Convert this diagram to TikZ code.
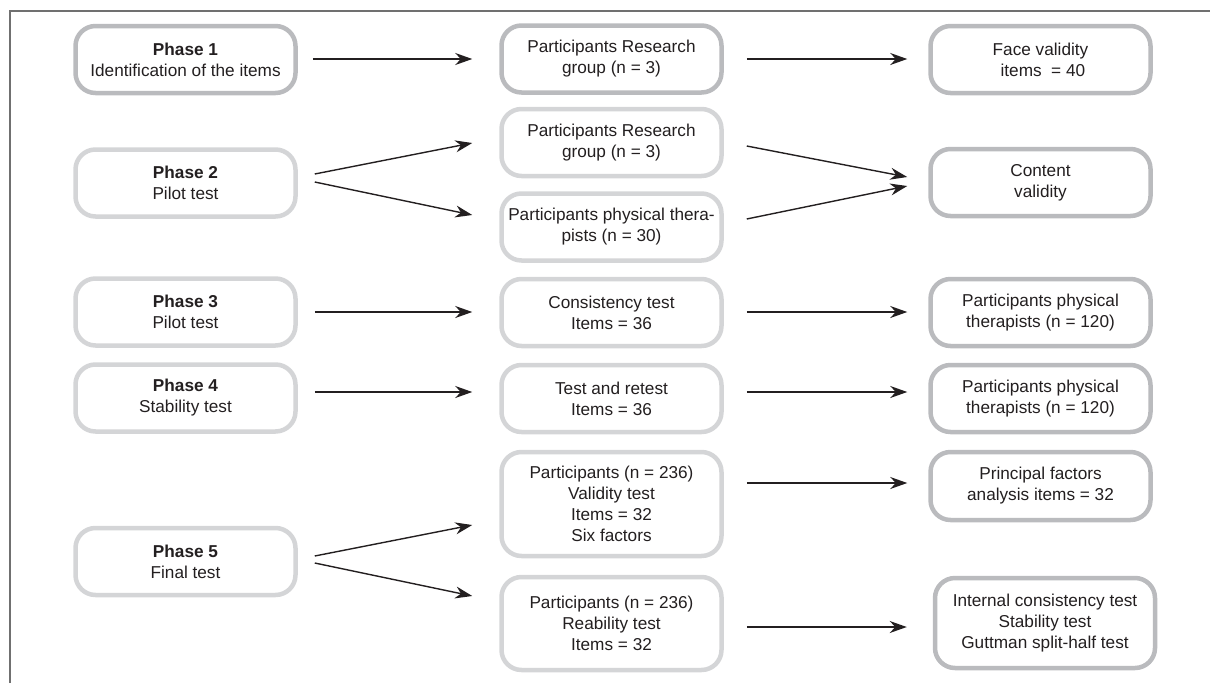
\documentclass[tikz,border=0pt]{standalone}
\usepackage{fontspec}
\setmainfont{Liberation Sans}
\usetikzlibrary{arrows.meta}
\definecolor{darkrim}{RGB}{186,187,190}
\definecolor{lightrim}{RGB}{212,213,215}
\definecolor{ink}{RGB}{35,31,32}
\definecolor{framegray}{RGB}{112,112,112}
\tikzset{
  box/.style={draw=#1, line width=4.5pt, rounded corners=20pt, fill=white,
    minimum width=220pt, minimum height=67pt, inner sep=0pt, align=center,
    text=ink, font=\fontsize{17.2}{21}\selectfont},
  box/.default=lightrim,
  arr/.style={draw=ink, line width=1.4pt, -{Stealth[length=17pt,width=12pt,inset=5.5pt]}},
}
\begin{document}
\begin{tikzpicture}[x=1pt,y=-1pt]
\useasboundingbox (0,0) rectangle (1210,683);
\draw[framegray, line width=1.5pt] (10,683) -- (10,11) -- (1210,11);

% column 1
\node[box=darkrim] (P1) at (185.5,59.5) {\textbf{Phase 1}\\Identification of the items};
\node[box] (P2) at (185.5,183) {\textbf{Phase 2}\\Pilot test};
\node[box] (P3) at (185.5,312) {\textbf{Phase 3}\\Pilot test};
\node[box] (P4) at (185.5,398) {\textbf{Phase 4}\\Stability test};
\node[box] (P5) at (185.5,561.5) {\textbf{Phase 5}\\Final test};

% column 2
\node[box=darkrim] (C1) at (611.5,59) {Participants Research\\group (n = 3)};
\node[box] (C2a) at (611.5,142.5) {Participants Research\\group (n = 3)};
\node[box] (C2b) at (611.5,227) {Participants physical thera-\\pists (n = 30)};
\node[box] (C3) at (611.5,312.5) {Consistency test\\Items = 36};
\node[box] (C4) at (611.5,398.5) {Test and retest\\Items = 36};
\node[box, minimum height=104pt] (C5a) at (611.5,504) {Participants (n = 236)\\Validity test\\Items = 32\\Six factors};
\node[box, minimum height=93pt] (C5b) at (611.5,623.5) {Participants (n = 236)\\Reability test\\Items = 32};

% column 3
\node[box=darkrim] (R1) at (1040.5,59.5) {Face validity\\\ items\ \ = 40};
\node[box=darkrim] (R2) at (1040.5,182.5) {Content\\validity};
\node[box=darkrim] (R3) at (1040.5,312.5) {Participants physical\\therapists (n = 120)};
\node[box=darkrim] (R4) at (1040.5,398.5) {Participants physical\\therapists (n = 120)};
\node[box=darkrim, minimum height=68pt] (R5a) at (1040.5,486) {Principal factors\\analysis items = 32};
\node[box=darkrim, minimum height=90pt] (R5b) at (1045,623) {Internal consistency test\\Stability test\\Guttman split-half test};

% connectors
\draw[arr] ([shift={(15,-0.5)}]P1.east) -- ([shift={(-27,0)}]C1.west);
\draw[arr] ([shift={(23,0)}]C1.east) -- ([shift={(-21,-0.5)}]R1.west);

\draw[arr] ([shift={(17,-9)}]P2.east) -- ([shift={(-27,0.5)}]C2a.west);
\draw[arr] ([shift={(17,-1)}]P2.east) -- ([shift={(-27,-12)}]C2b.west);
\draw[arr] ([shift={(23,3.5)}]C2a.east) -- ([shift={(-21,-5.5)}]R2.west);
\draw[arr] ([shift={(23,-8)}]C2b.east) -- ([shift={(-21,3.5)}]R2.west);

\draw[arr] ([shift={(17,0)}]P3.east) -- ([shift={(-27,-0.5)}]C3.west);
\draw[arr] ([shift={(23,-0.5)}]C3.east) -- ([shift={(-21,-0.5)}]R3.west);

\draw[arr] ([shift={(17,-6)}]P4.east) -- ([shift={(-27,-6.5)}]C4.west);
\draw[arr] ([shift={(23,-6.5)}]C4.east) -- ([shift={(-21,-6.5)}]R4.west);

\draw[arr] ([shift={(17,-5.5)}]P5.east) -- ([shift={(-27,21)}]C5a.west);
\draw[arr] ([shift={(17,1.5)}]P5.east) -- ([shift={(-27,-27.5)}]C5b.west);
\draw[arr] ([shift={(23,-21)}]C5a.east) -- ([shift={(-21,-3)}]R5a.west);
\draw[arr] ([shift={(23,3.5)}]C5b.east) -- ([shift={(-26,4)}]R5b.west);
\end{tikzpicture}
\end{document}
